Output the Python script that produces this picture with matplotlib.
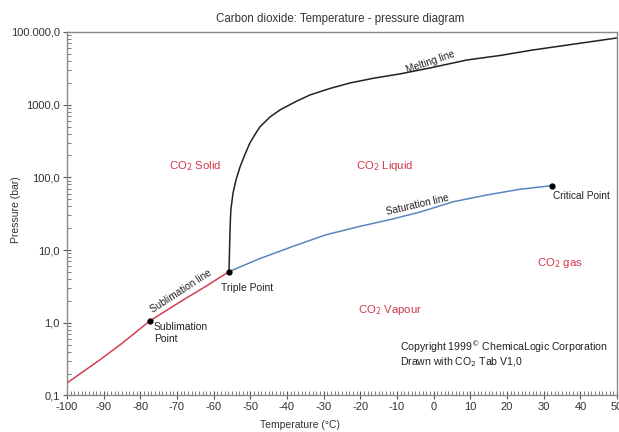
import matplotlib
matplotlib.use('Agg')
import matplotlib.pyplot as plt
from matplotlib.ticker import FixedLocator, FixedFormatter, MultipleLocator, LogLocator, NullFormatter

plt.rcParams['font.family'] = ['Liberation Sans', 'DejaVu Sans']
plt.rcParams['axes.unicode_minus'] = False

# phase lines (temperature degC, pressure bar)
subl_t = [-100, -91, -85, -77.4, -68.3, -62, -55.8]
subl_p = [0.148, 0.309, 0.52, 1.06, 2.06, 3.2, 5.05]

sat_t = [-55.8, -47.8, -38.7, -29.6, -20.5, -11.4, -3.7, 5.4, 14.5, 23.5, 32.2]
sat_p = [5.05, 7.5, 11.1, 16.1, 21.0, 26.6, 33.4, 46.3, 57.3, 68.6, 76.9]

melt_t = [-55.8, -55.5, -55.3, -54.7, -53.9, -52.8, -51.5, -50.1, -48.7, -47.4, -44.6, -41.9,
          -37.8, -33.7, -28.3, -22.8, -16, -9.2, -1, 9.1, 18.1, 27.1, 38.5, 50]
melt_p = [5.05, 20.9, 35.6, 61, 92, 139, 204, 298, 390, 494, 679, 847,
          1090, 1362, 1670, 1990, 2330, 2650, 3200, 4120, 4750, 5660, 6840, 8280]

points_t = [-77.4, -55.8, 32.2]
points_p = [1.06, 5.05, 76.9]

ytick_vals = [0.1, 1, 10, 100, 1000, 10000]
ytick_labels = ['0,1', '1,0', '10,0', '100,0', '1000,0', '100.000,0']
xtick_vals = list(range(-100, 51, 10))

fig = plt.figure(figsize=(6.19, 4.32), dpi=100)
ax = fig.add_axes([0.108, 0.0845, 0.889, 0.8415])

red = '#d0384a'
ax.plot(subl_t, subl_p, color='#d04050', lw=1.1)
ax.plot(sat_t, sat_p, color='#5a86c0', lw=1.1)
ax.plot(melt_t, melt_p, color='#222222', lw=1.1)
ax.plot(points_t, points_p, 'o', color='black', ms=3.5)

ax.set_yscale('log')
ax.set_xlim(-100, 50)
ax.set_ylim(0.1, 10000)

ax.yaxis.set_major_locator(FixedLocator(ytick_vals))
ax.yaxis.set_major_formatter(FixedFormatter(ytick_labels))
ax.yaxis.set_minor_locator(LogLocator(base=10, subs=range(2, 10)))
ax.yaxis.set_minor_formatter(NullFormatter())
ax.xaxis.set_major_locator(FixedLocator(xtick_vals))
ax.xaxis.set_minor_locator(MultipleLocator(1))

ax.tick_params(which='major', direction='inout', length=6, width=0.8, colors='#555555',
               labelsize=8, labelcolor='#333333', pad=2)
ax.tick_params(which='minor', direction='in', length=3, width=0.6, colors='#666666')
for s in ax.spines.values():
    s.set_color('#8a8a8a')
    s.set_linewidth(1.0)

fig.text(0.55, 0.955, 'Carbon dioxide: Temperature - pressure diagram', ha='center', va='center',
         fontsize=8.3, color='#333333')
fig.text(0.026, 0.515, 'Pressure (bar)', rotation=90, ha='center', va='center', fontsize=7.5, color='#333333')
fig.text(0.485, 0.016, 'Temperature (°C)', ha='center', va='center', fontsize=7.5, color='#333333')

ax.text(-65, 144, 'CO$_2$ Solid', color=red, fontsize=8.2, ha='center', va='center')
ax.text(-13.3, 144, 'CO$_2$ Liquid', color=red, fontsize=8.2, ha='center', va='center')
ax.text(34.5, 6.7, 'CO$_2$ gas', color=red, fontsize=8.2, ha='center', va='center')
ax.text(-11.9, 1.51, 'CO$_2$ Vapour', color=red, fontsize=8.2, ha='center', va='center')

ax.text(-58, 3.0, 'Triple Point', fontsize=7.5, color='#222222', ha='left', va='center')
ax.text(-76.3, 0.73, 'Sublimation\nPoint', fontsize=7.5, color='#222222', ha='left', va='center',
        linespacing=1.3)
ax.text(32.6, 56, 'Critical Point', fontsize=7.3, color='#222222', ha='left', va='center')

ax.text(-68.9, 2.75, 'Sublimation line', fontsize=7.2, rotation=33, ha='center', va='center', color='#222222')
ax.text(-4.3, 42, 'Saturation line', fontsize=7.2, rotation=13, ha='center', va='center', color='#222222')
ax.text(-1, 3870, 'Melting line', fontsize=7.2, rotation=19, ha='center', va='center', color='#222222')

ax.text(-9.2, 0.47, 'Copyright 1999$^{©}$ ChemicaLogic Corporation', fontsize=7.6, ha='left',
        va='center', color='#222222')
ax.text(-9.2, 0.29, 'Drawn with CO$_2$ Tab V1,0', fontsize=7.6, ha='left', va='center', color='#222222')

fig.savefig('out.png', dpi=100)
